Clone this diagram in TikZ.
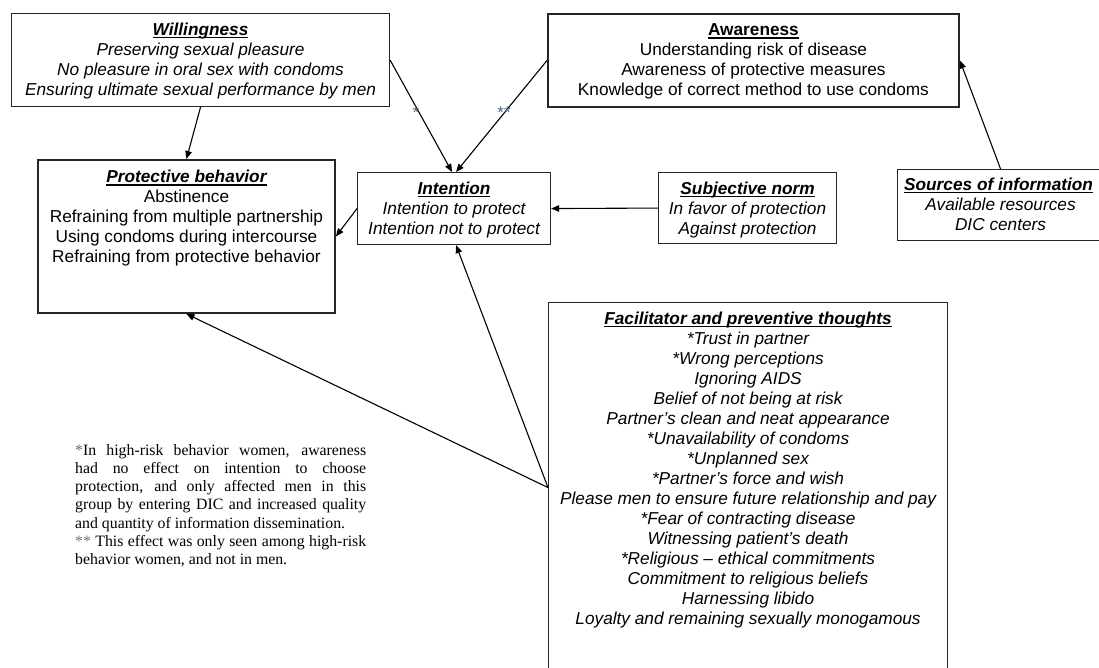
\documentclass[tikz,border=0pt]{standalone}
\usepackage{fontspec}
\setmainfont{Liberation Sans}
\newfontfamily\tms{Liberation Serif}
\usetikzlibrary{arrows.meta}
\definecolor{starcol}{rgb}{0.3,0.4,0.58}
\newcommand\ttl[1]{\setbox0\hbox{#1}\rlap{\rule[-2.6pt]{\wd0}{1.2pt}}\box0}
\newcommand\bx[4]{\parbox[c][#2][t]{#1}{\centering\fontsize{17.25}{20}\selectfont\rule{0pt}{#3}#4}}
\tikzset{
  box/.style={draw=black!85, inner sep=0pt, anchor=north west, line width=1.1pt},
  thickbox/.style={box, line width=1.9pt},
  arr/.style={line width=1.1pt, -{Triangle[length=8pt,width=6.5pt]}},
  starlbl/.style={text=starcol, font=\fontsize{17}{17}\selectfont, inner sep=0pt}
}
\begin{document}
\begin{tikzpicture}[x=1pt,y=-1pt]
\useasboundingbox (0,0) rectangle (1099,667);
\fill[white] (0,0) rectangle (1099,667);

\node[box] (will) at (11,13) {\bx{378pt}{93pt}{22pt}{\ttl{\bfseries\itshape Willingness}\\ \itshape
Preserving sexual pleasure\\
No pleasure in oral sex with condoms\\
Ensuring ultimate sexual performance by men}};

\node[thickbox] (aware) at (547,13) {\bx{411pt}{93pt}{22pt}{\ttl{\bfseries Awareness}\\
Understanding risk of disease\\
Awareness of protective measures\\
Knowledge of correct method to use condoms}};

\node[thickbox] (prot) at (37,159) {\bx{297pt}{153pt}{23pt}{\ttl{\bfseries\itshape Protective behavior}\\
Abstinence\\
Refraining from multiple partnership\\
Using condoms during intercourse\\
Refraining from protective behavior}};

\node[box] (int) at (357,172) {\bx{193pt}{72pt}{22pt}{\ttl{\bfseries\itshape Intention}\\ \itshape
Intention to protect\\
Intention not to protect}};

\node[box] (subj) at (658,172) {\bx{178pt}{71pt}{22pt}{\ttl{\bfseries\itshape Subjective norm}\\ \itshape
In favor of protection\\
Against protection}};

\node[box] (src) at (897,169) {\bx{206pt}{71pt}{21pt}{\hspace*{-4pt}\ttl{\bfseries\itshape Sources of information}\\ \itshape
Available resources\\
DIC centers}};

\node[box] (fac) at (548,302) {\bx{399pt}{370pt}{22pt}{\ttl{\bfseries\itshape Facilitator and preventive thoughts}\\ \itshape
{}*Trust in partner\\
{}*Wrong perceptions\\
Ignoring AIDS\\
Belief of not being at risk\\
Partner's clean and neat appearance\\
{}*Unavailability of condoms\\
{}*Unplanned sex\\
{}*Partner's force and wish\\
Please men to ensure future relationship and pay\\
{}*Fear of contracting disease\\
Witnessing patient's death\\
{}*Religious -- ethical commitments\\
Commitment to religious beliefs\\
Harnessing libido\\
Loyalty and remaining sexually monogamous}};

\node[anchor=north west, inner sep=0pt] (note) at (75,442) {\parbox{291pt}{\tms\fontsize{15.8}{18.2}\selectfont\rule{0pt}{13pt}%
\makebox[291pt][s]{{\color{black!60}*}In high-risk behavior women, awareness}\\
\makebox[291pt][s]{had no effect on intention to choose}\\
\makebox[291pt][s]{protection, and only affected men in this}\\
\makebox[291pt][s]{group by entering DIC and increased quality}\\
and quantity of information dissemination.\\
\makebox[291pt][s]{{\color{black!55}**} This effect was only seen among high-risk}\\
behavior women, and not in men.}};

\draw[arr] (will.south) -- (prot.north);
\draw[arr] (will.east) -- ([xshift=-2pt]int.north);
\draw[arr] (aware.west) -- ([xshift=2pt]int.north);
\draw[arr] (int.west) -- (prot.east);
\draw[arr] (subj.west) -- (int.east);
\draw[arr] (src.north) -- (aware.east);
\draw[arr] (fac.west) -- ([xshift=2pt]int.south);
\draw[arr] (fac.west) -- (prot.south);

\node[starlbl] (s1) at (416,113) {*};
\node[starlbl] (s2) at (504,113) {**};
\end{tikzpicture}
\end{document}
